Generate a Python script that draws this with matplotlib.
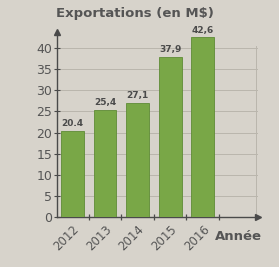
import matplotlib
matplotlib.use("Agg")
import matplotlib.pyplot as plt
import numpy as np

years = ["2012", "2013", "2014", "2015", "2016"]
values = [20.4, 25.4, 27.1, 37.9, 42.6]
labels = ["20.4", "25,4", "27,1", "37,9", "42,6"]
yticks = [0, 5, 10, 15, 20, 25, 30, 35, 40]

BG = "#d7d3cb"
GREEN = "#79a747"
INK = "#4a4a4a"

fig = plt.figure(figsize=(2.79, 2.67), dpi=100, facecolor=BG)
ax = fig.add_axes([0.204, 0.187, 0.72, 0.693], facecolor=BG)

x = np.arange(len(years))
ax.bar(x, values, width=0.7, color=GREEN, edgecolor="#5f8c36", linewidth=0.6, zorder=3)
for xi, v, t in zip(x, values, labels):
    ax.text(xi, v + 0.6, t, ha="center", va="bottom", fontsize=6.5,
            color=INK, fontweight="bold", zorder=4)

ax.set_xlim(-0.475, 5.69)
ax.set_ylim(0, 43.8)

for y in yticks[1:]:
    ax.axhline(y, color="#bab6ad", lw=0.7, zorder=1)
ax.axvline(5.65, ymax=40.5 / 43.8, color="#bab6ad", lw=0.7, zorder=1)

for s in ["top", "right"]:
    ax.spines[s].set_visible(False)
for s in ["left", "bottom"]:
    ax.spines[s].set_color(INK)
    ax.spines[s].set_linewidth(1.0)

ax.set_yticks(yticks)
ax.set_yticklabels([str(v) for v in yticks], fontsize=9, color="#555555")
ax.tick_params(axis="y", direction="inout", length=5, width=0.8, color=INK, pad=1)

ax.set_xticks(x)
ax.set_xticklabels(years, rotation=45, ha="right", rotation_mode="anchor",
                   fontsize=8.5, color="#555555")
ax.tick_params(axis="x", which="major", length=0, pad=4)
ax.set_xticks(x + 0.5, minor=True)
ax.tick_params(axis="x", which="minor", direction="inout", length=5, width=0.9, color=INK)

ax.plot(0, 1, marker="^", color=INK, markersize=4, transform=ax.transAxes, clip_on=False, zorder=5)
ax.plot(1, 0, marker=">", color=INK, markersize=4, transform=ax.transAxes, clip_on=False, zorder=5)

fig.text(0.485, 0.948, "Exportations (en M$)", ha="center", va="center",
         fontsize=9.5, fontweight="bold", color="#555555")
fig.text(0.855, 0.113, "Année", ha="center", va="center",
         fontsize=9.5, fontweight="bold", color="#555555")

fig.savefig("out.png", dpi=100, facecolor=BG)
